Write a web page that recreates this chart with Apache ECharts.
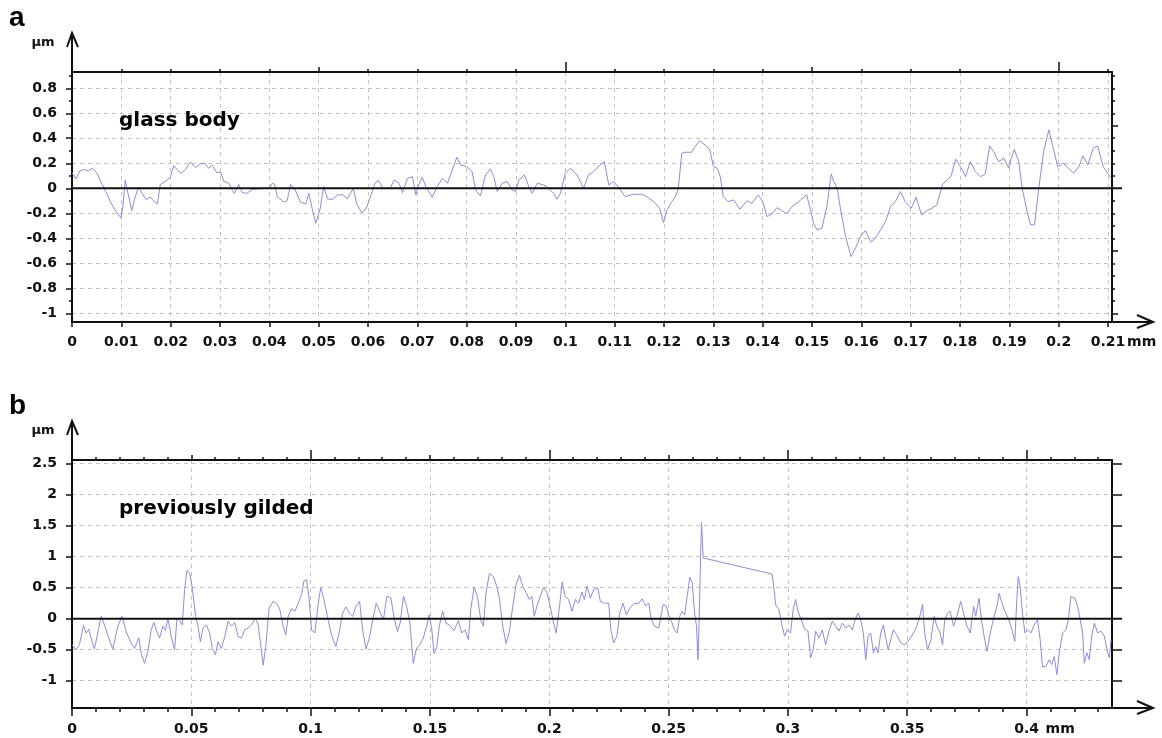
<!DOCTYPE html>
<html><head><meta charset="utf-8">
<script src="https://cdn.jsdelivr.net/npm/echarts@6/dist/echarts.min.js"></script>
<style>html,body{margin:0;padding:0;background:#fff}#c{width:1162px;height:738px}</style>
</head><body><div id="c"></div>
<script>
// ---- panel a : glass body ----
const xA = [0,0.0008,0.0016,0.0026,0.0033,0.0042,0.005,0.006,0.007,0.008,0.009,0.0099,0.0103,0.0108,0.0112,0.0117,0.0121,0.0128,0.0135,0.0142,0.015,0.0159,0.0165,0.0173,0.0179,0.0189,0.0199,0.0206,0.0213,0.0221,0.023,0.024,0.025,0.026,0.0269,0.0277,0.0284,0.0293,0.0301,0.0308,0.0318,0.0325,0.0329,0.0338,0.0345,0.0355,0.0365,0.0375,0.04,0.0406,0.0411,0.0416,0.043,0.0436,0.0443,0.0451,0.0463,0.0474,0.048,0.0487,0.0494,0.0503,0.051,0.0518,0.0528,0.0538,0.0548,0.0558,0.057,0.0577,0.0587,0.0596,0.0606,0.0614,0.0621,0.063,0.0645,0.0653,0.0663,0.067,0.068,0.069,0.0697,0.0701,0.071,0.0717,0.073,0.074,0.0751,0.0761,0.0771,0.078,0.0788,0.08,0.0811,0.0818,0.0828,0.0838,0.0848,0.0855,0.0862,0.0872,0.0882,0.0892,0.0899,0.0906,0.0917,0.0926,0.0933,0.0943,0.0956,0.0966,0.0976,0.0983,0.099,0.1,0.101,0.1024,0.1037,0.1047,0.1057,0.1071,0.1079,0.1088,0.1098,0.1108,0.1121,0.1138,0.1155,0.1165,0.1179,0.1191,0.1199,0.1206,0.1214,0.1223,0.1229,0.1236,0.1243,0.1256,0.1263,0.1272,0.1283,0.1293,0.13,0.1308,0.1314,0.132,0.133,0.1341,0.1354,0.1368,0.1378,0.1391,0.14,0.1409,0.1419,0.1429,0.1439,0.1449,0.1459,0.1473,0.1489,0.1497,0.1503,0.151,0.152,0.153,0.1539,0.1544,0.1551,0.1557,0.1568,0.1579,0.1588,0.1598,0.1608,0.162,0.1628,0.1639,0.1649,0.1659,0.1669,0.1679,0.1689,0.1701,0.1711,0.1722,0.1733,0.1743,0.1753,0.1764,0.1774,0.1782,0.1791,0.1801,0.1811,0.1821,0.1831,0.1841,0.1851,0.186,0.1868,0.1878,0.1889,0.1899,0.1903,0.191,0.1919,0.1926,0.1936,0.1943,0.1951,0.196,0.197,0.198,0.1989,0.1998,0.2009,0.202,0.203,0.2041,0.2049,0.2059,0.207,0.2079,0.209,0.2105];
const yA = [0.125,0.075,0.14,0.15,0.14,0.16,0.125,0.04,-0.04,-0.125,-0.19,-0.235,-0.15,0.065,-0.015,-0.1,-0.18,-0.07,0.01,-0.04,-0.09,-0.07,-0.1,-0.125,0.03,0.055,0.085,0.18,0.15,0.12,0.15,0.21,0.165,0.195,0.2,0.16,0.185,0.125,0.13,0.055,0.04,-0.015,-0.04,0.03,-0.035,-0.04,-0.01,-0.005,0,0.04,0.03,-0.07,-0.11,-0.1,0.03,0,-0.11,-0.125,-0.04,-0.165,-0.28,-0.165,0.015,-0.085,-0.09,-0.055,-0.05,-0.085,0,-0.125,-0.195,-0.165,-0.055,0.04,0.065,0,0,0.067,0.04,-0.035,0.08,0.093,-0.053,0.013,0.088,0.013,-0.072,0.013,0.08,0.04,0.147,0.248,0.187,0.173,0.133,-0.013,-0.061,0.107,0.155,0.093,-0.027,0.04,0.053,-0.013,-0.027,0.067,0.107,0.013,-0.04,0.04,0.027,0,-0.04,-0.088,-0.04,0.12,0.16,0.107,0,0.107,0.133,0.187,0.213,0.027,0.053,0.008,-0.067,-0.048,-0.048,-0.067,-0.107,-0.16,-0.275,-0.173,-0.12,-0.067,0,0.28,0.288,0.288,0.333,0.381,0.347,0.307,0.173,0.16,0.093,-0.067,-0.107,-0.093,-0.168,-0.099,-0.12,-0.053,-0.107,-0.227,-0.205,-0.155,-0.179,-0.205,-0.147,-0.107,-0.053,-0.173,-0.28,-0.333,-0.32,-0.147,0.115,0.053,0,-0.147,-0.387,-0.547,-0.48,-0.387,-0.339,-0.432,-0.4,-0.333,-0.267,-0.147,-0.107,-0.027,-0.107,-0.16,-0.072,-0.213,-0.179,-0.16,-0.133,0.027,0.067,0.099,0.232,0.173,0.093,0.213,0.133,0.093,0.115,0.339,0.293,0.213,0.24,0.16,0.227,0.312,0.213,0,-0.187,-0.293,-0.293,0.013,0.307,0.467,0.32,0.173,0.2,0.16,0.12,0.173,0.259,0.187,0.32,0.339,0.173,0.088];

// ---- panel b : previously gilded ----
const xB = [0,0.0017,0.0031,0.0048,0.0059,0.007,0.008,0.0094,0.0108,0.0122,0.0136,0.0154,0.0171,0.0192,0.021,0.0227,0.0248,0.0262,0.028,0.029,0.0304,0.0318,0.0332,0.0343,0.0356,0.0367,0.0381,0.0392,0.0402,0.0416,0.043,0.044,0.0451,0.0462,0.0472,0.0482,0.0493,0.0504,0.0518,0.0528,0.0538,0.0549,0.0563,0.0577,0.0588,0.0601,0.0612,0.0626,0.064,0.0654,0.0668,0.0682,0.0696,0.071,0.0724,0.0738,0.0752,0.077,0.078,0.079,0.0801,0.0812,0.0826,0.0843,0.0857,0.0871,0.0885,0.0896,0.0906,0.092,0.0934,0.0948,0.0962,0.0972,0.0983,0.0994,0.1004,0.1018,0.1032,0.1042,0.1056,0.107,0.1084,0.1095,0.1106,0.112,0.1134,0.1148,0.1162,0.1176,0.119,0.1205,0.1218,0.1232,0.1246,0.126,0.1275,0.1289,0.1305,0.1319,0.1336,0.135,0.1364,0.1375,0.1389,0.1402,0.1416,0.143,0.1444,0.1458,0.1472,0.1486,0.1497,0.1507,0.1517,0.1528,0.1539,0.1553,0.1567,0.1584,0.1601,0.1619,0.1633,0.1647,0.1661,0.1671,0.1685,0.1699,0.1713,0.1724,0.1735,0.1749,0.1766,0.178,0.1791,0.1805,0.1819,0.1833,0.1847,0.1861,0.1875,0.1889,0.1903,0.1917,0.1927,0.1937,0.1948,0.1962,0.1976,0.199,0.2004,0.2018,0.2029,0.2043,0.2054,0.2067,0.2081,0.2095,0.2109,0.2123,0.2137,0.2147,0.2158,0.2172,0.2186,0.2203,0.2214,0.2231,0.2249,0.2258,0.227,0.2284,0.2295,0.2309,0.2323,0.2337,0.2354,0.2375,0.2389,0.2403,0.2417,0.2426,0.244,0.2459,0.2477,0.2491,0.2501,0.2515,0.2524,0.2536,0.2547,0.2557,0.2567,0.2578,0.2589,0.2599,0.2609,0.2617,0.2623,0.2628,0.2634,0.2638,0.2642,0.2645,0.2648,0.2934,0.2944,0.2948,0.2962,0.2976,0.2986,0.2997,0.3011,0.3022,0.3032,0.3042,0.3056,0.307,0.3084,0.3095,0.3106,0.3116,0.313,0.3144,0.3158,0.3172,0.3186,0.32,0.3214,0.3228,0.3242,0.3256,0.327,0.3284,0.3294,0.3305,0.3316,0.3326,0.3336,0.3347,0.3358,0.3368,0.3378,0.3389,0.34,0.341,0.342,0.3431,0.3442,0.3456,0.3473,0.349,0.3508,0.3526,0.354,0.3554,0.3564,0.3573,0.3585,0.3599,0.3613,0.3624,0.3638,0.3648,0.3657,0.3669,0.368,0.3694,0.3708,0.3724,0.3736,0.375,0.3764,0.3778,0.3787,0.3801,0.3811,0.3822,0.3834,0.3848,0.3862,0.3876,0.3885,0.3895,0.3909,0.3923,0.3937,0.3951,0.3959,0.3965,0.3973,0.3983,0.3993,0.4004,0.4018,0.4032,0.4046,0.4057,0.4067,0.4081,0.4095,0.4105,0.4116,0.4127,0.4137,0.4151,0.4165,0.4175,0.4186,0.4203,0.4214,0.4225,0.4235,0.4242,0.4253,0.4263,0.4273,0.4284,0.4298,0.4312,0.4326,0.434,0.4347,0.4354];
const yB = [-0.42,-0.5,-0.42,-0.11,-0.23,-0.17,-0.31,-0.49,-0.23,0.04,-0.1,-0.31,-0.49,-0.12,0.04,-0.21,-0.39,-0.48,-0.31,-0.56,-0.72,-0.53,-0.18,-0.06,-0.21,-0.31,-0.12,-0.19,0.01,-0.29,-0.5,0.01,-0.03,-0.1,0.47,0.78,0.74,0.5,0.04,-0.12,-0.37,-0.15,-0.1,-0.23,-0.48,-0.58,-0.37,-0.48,-0.29,-0.04,-0.12,-0.06,-0.29,-0.31,-0.18,-0.15,-0.1,0.01,-0.1,-0.39,-0.75,-0.45,0.17,0.28,0.25,0.15,-0.12,-0.26,0.04,0.16,0.12,0.25,0.39,0.61,0.63,0.31,-0.18,-0.23,0.25,0.5,0.31,0.04,-0.21,-0.34,-0.45,-0.21,0.09,0.19,0.09,0.04,0.2,0.28,-0.18,-0.49,-0.31,-0.02,0.25,0.12,-0.02,0.36,0.34,0.01,-0.21,-0.07,0.36,0.2,-0.07,-0.72,-0.47,-0.42,-0.31,-0.12,0.06,-0.15,-0.56,-0.47,-0.12,0.12,-0.07,-0.11,-0.19,-0.03,-0.23,-0.18,-0.34,0.15,0.51,0.36,-0.02,-0.12,0.42,0.73,0.68,0.52,0.33,-0.12,-0.4,-0.2,0.2,0.55,0.7,0.52,0.42,0.31,0.36,0.04,0.2,0.36,0.51,0.42,0.2,-0.07,-0.23,0.2,0.59,0.36,0.31,0.12,0.31,0.25,0.43,0.31,0.53,0.33,0.47,0.5,0.28,0.25,0.25,-0.18,-0.39,-0.27,0.09,0.25,0.06,0.17,0.24,0.25,0.32,0.21,0.25,0.01,-0.12,-0.15,0.23,0.2,0.04,-0.07,-0.18,-0.23,0.04,0.12,0.06,0.36,0.67,0.58,0.09,-0.12,-0.66,-0.02,0.98,1.55,1.22,0.98,0.96,0.72,0.41,0.23,0.15,-0.12,-0.28,-0.18,-0.23,0.15,0.31,0.12,-0.02,-0.17,-0.2,-0.63,-0.5,-0.2,-0.31,-0.18,-0.42,-0.2,-0.04,-0.12,-0.2,-0.07,-0.15,-0.1,-0.18,0.01,0.09,-0.02,-0.23,-0.66,-0.28,-0.23,-0.55,-0.45,-0.55,-0.23,-0.1,-0.31,-0.5,-0.34,-0.18,-0.26,-0.39,-0.42,-0.34,-0.23,-0.12,0.06,0.23,-0.23,-0.5,-0.34,0.04,-0.12,-0.23,-0.42,-0.02,0.09,0.12,-0.12,0.04,0.28,0.09,-0.12,-0.23,0.2,0.04,0.33,-0.02,-0.28,-0.53,-0.23,0.01,0.2,0.41,0.28,0.12,0.01,-0.15,-0.37,0.31,0.68,0.52,0.09,-0.23,-0.18,-0.23,-0.1,-0.02,-0.34,-0.78,-0.77,-0.66,-0.74,-0.61,-0.9,-0.55,-0.23,-0.18,-0.02,0.36,0.33,0.2,-0.02,-0.23,-0.72,-0.55,-0.66,-0.28,-0.07,-0.23,-0.2,-0.28,-0.55,-0.63,-0.34];

// ---- axis ranges and tick values ----
const rangeA = {xMax: 0.2108, yMin: -1.07, yMax: 0.93};
const rangeB = {xMax: 0.4358, yMin: -1.44, yMax: 2.56};
const xLabelsA = [0,0.01,0.02,0.03,0.04,0.05,0.06,0.07,0.08,0.09,0.1,0.11,0.12,0.13,0.14,0.15,0.16,0.17,0.18,0.19,0.2,0.21];
const xTopMidA = [0.05,0.15];
const xTopMajorA = [0.1,0.2];
const yLabelsA = [-1,-0.8,-0.6,-0.4,-0.2,0,0.2,0.4,0.6,0.8];
const yMinorA = [-0.9,-0.7,-0.5,-0.3,-0.1,0.1,0.3,0.5,0.7,0.9];
const yRightA = [-1,-0.9,-0.8,-0.7,-0.6,-0.5,-0.4,-0.3,-0.2,-0.1,0.1,0.2,0.3,0.4,0.5,0.6,0.7,0.8,0.9];
const yRightMajorA = [-1,-0.5,0.5];
const xLabelsB = [0,0.05,0.1,0.15,0.2,0.25,0.3,0.35,0.4];
const xMinorB = [0.01,0.02,0.03,0.04,0.06,0.07,0.08,0.09,0.11,0.12,0.13,0.14,0.16,0.17,0.18,0.19,0.21,0.22,0.23,0.24,0.26,0.27,0.28,0.29,0.31,0.32,0.33,0.34,0.36,0.37,0.38,0.39,0.41,0.42,0.43];
const xTopMidB = [0.05,0.15,0.25,0.35];
const xTopMajorB = [0.1,0.2,0.3,0.4];
const yLabelsB = [-1,-0.5,0,0.5,1,1.5,2,2.5];
const yRightB = [-1,-0.5,0.5,1,1.5,2,2.5];

const INK = '#111';
const FONT = 'DejaVu Sans';
const fmt = v => String(parseFloat(Number(v).toFixed(4)));
const dash = {show:true, lineStyle:{color:'#c4c4c4', type:[4,4], width:1}};

function axis(kind, grid, pos, min, max, o) {
  const a = {
    type:'value', gridIndex:grid, position:pos, min:min, max:max, scale:true,
    axisLine:{show:false, onZero:false, lineStyle:{color:INK, width:2}},
    axisTick:{show:false}, axisLabel:{show:false}, splitLine:{show:false}, minorTick:{show:false}
  };
  if (o.line) a.axisLine.show = true;
  if (o.ticks) a.axisTick = {show:true, customValues:o.ticks, length:o.len, inside:false, lineStyle:{color:INK, width:o.tw || 1.5}};
  if (o.labels) a.axisLabel = {show:true, customValues:o.labels, formatter:fmt, color:INK, fontFamily:FONT, fontWeight:'bold', fontSize:14, margin:o.margin};
  if (o.split) a.splitLine = dash;
  return a;
}

const MARGIN_A = 13, MARGIN_B = 14;
const xAxis = [
  // grid 0
  axis('x',0,'bottom',0,rangeA.xMax,{line:true, ticks:xLabelsA, len:5, labels:xLabelsA, margin:MARGIN_A, split:true}),
  axis('x',0,'top',0,rangeA.xMax,{line:true, ticks:xLabelsA, len:3}),
  axis('x',0,'top',0,rangeA.xMax,{ticks:xTopMidA, len:5}),
  axis('x',0,'top',0,rangeA.xMax,{ticks:xTopMajorA, len:10}),
  // grid 1
  axis('x',1,'bottom',0,rangeB.xMax,{line:true, ticks:xLabelsB, len:8, labels:xLabelsB, margin:MARGIN_B, split:true}),
  axis('x',1,'bottom',0,rangeB.xMax,{ticks:xMinorB, len:4}),
  axis('x',1,'top',0,rangeB.xMax,{line:true, ticks:xMinorB, len:3}),
  axis('x',1,'top',0,rangeB.xMax,{ticks:xTopMidB, len:5}),
  axis('x',1,'top',0,rangeB.xMax,{ticks:xTopMajorB, len:10})
];
const yAxis = [
  axis('y',0,'left',rangeA.yMin,rangeA.yMax,{line:true, ticks:yLabelsA, len:6, labels:yLabelsA, margin:15, split:true}),
  axis('y',0,'left',rangeA.yMin,rangeA.yMax,{ticks:yMinorA, len:3}),
  axis('y',0,'right',rangeA.yMin,rangeA.yMax,{line:true, ticks:yRightA, len:3}),
  axis('y',0,'right',rangeA.yMin,rangeA.yMax,{ticks:yRightMajorA, len:6}),
  axis('y',1,'left',rangeB.yMin,rangeB.yMax,{line:true, ticks:yLabelsB, len:6, labels:yLabelsB, margin:15, split:true}),
  axis('y',1,'right',rangeB.yMin,rangeB.yMax,{line:true, ticks:yRightB, len:10})
];

const zipPts = (xs, ys) => xs.map((x, i) => [x, ys[i]]);
const lineStyle = {color:'#8c8ce6', width:1};

const option = {
  animation:false,
  backgroundColor:'#fff',
  grid:[
    {left:72, top:72, width:1040, height:250, show:false},
    {left:72, top:460, width:1040, height:248, show:false}
  ],
  xAxis, yAxis,
  series:[
    {type:'line', xAxisIndex:0, yAxisIndex:0, data:zipPts(xA,yA), showSymbol:false, lineStyle, silent:true},
    {type:'line', xAxisIndex:4, yAxisIndex:4, data:zipPts(xB,yB), showSymbol:false, lineStyle, silent:true}
  ]
};

const chart = echarts.init(document.getElementById('c'));
chart.setOption(option);

function deco(xi, yi, range, lastLabel, margin, letter, title) {
  const p = pt => chart.convertToPixel({xAxisIndex:xi, yAxisIndex:yi}, pt);
  const [L, T] = p([0, range.yMax]);
  const [R, B] = p([range.xMax, range.yMin]);
  const y0 = p([0, 0])[1];
  const xl = p([lastLabel, 0])[0];
  const st = {stroke:INK, lineWidth:2, fill:null};
  return [
    {type:'line', shape:{x1:L, y1:T, x2:L, y2:T-39}, style:st, z:20},
    {type:'polyline', shape:{points:[[L-5,T-25],[L,T-39],[L+6,T-25]]}, style:st, z:20},
    {type:'line', shape:{x1:R, y1:B, x2:R+41, y2:B}, style:st, z:20},
    {type:'polyline', shape:{points:[[R+25,B-7],[R+41,B],[R+25,B+6]]}, style:st, z:20},
    {type:'line', shape:{x1:L, y1:y0, x2:R+10, y2:y0}, style:st, z:20},
    {type:'text', x:L-29, y:T-29, style:{text:'µm', fontFamily:FONT, fontWeight:'bold', fontSize:13, fill:INK, align:'center', verticalAlign:'middle'}, z:20},
    {type:'text', x:xl+19, y:B+margin, style:{text:'mm', fontFamily:FONT, fontWeight:'bold', fontSize:14, fill:INK, align:'left', verticalAlign:'top'}, z:20},
    {type:'text', x:9, y:T-54, style:{text:letter, fontFamily:'Liberation Sans', fontWeight:'bold', fontSize:28, fill:'#000', align:'left', verticalAlign:'middle'}, z:20},
    {type:'text', x:L+47, y:T+49, style:{text:title, fontFamily:FONT, fontWeight:'bold', fontSize:20, fill:'#000', align:'left', verticalAlign:'middle'}, z:20}
  ];
}

chart.setOption({graphic: [].concat(
  deco(0, 0, rangeA, 0.21, MARGIN_A, 'a', 'glass body'),
  deco(4, 4, rangeB, 0.4, MARGIN_B, 'b', 'previously gilded')
)});
</script></body></html>
